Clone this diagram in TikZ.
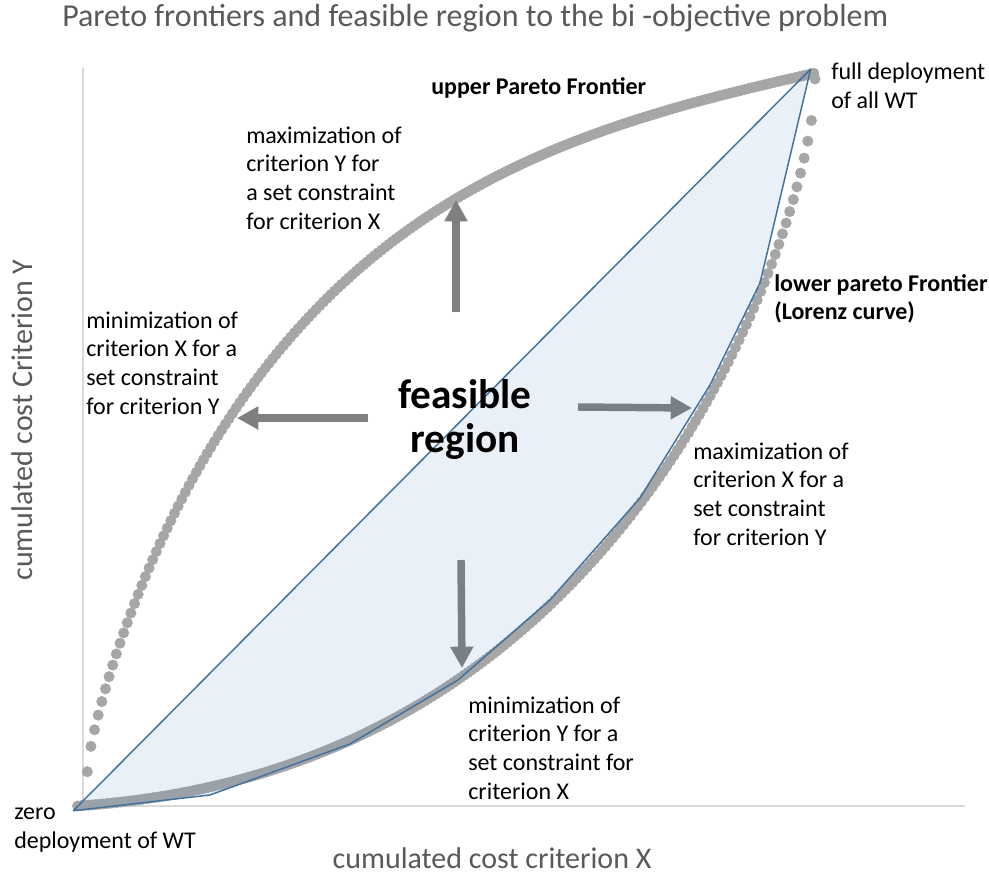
\documentclass[tikz,border=0pt]{standalone}
\usepackage{fontspec}
\setmainfont{Carlito}
\usetikzlibrary{arrows.meta}
\definecolor{dotgray}{HTML}{A6A6A6}
\definecolor{arrowgray}{HTML}{7F7F7F}
\definecolor{fillblue}{HTML}{4F81BD}
\definecolor{lineblue}{HTML}{41719C}
\definecolor{axisgray}{HTML}{D9D9D9}
\definecolor{titlegray}{HTML}{595959}
\tikzset{
  lbl/.style={font=\fontsize{18}{21.5}\selectfont, align=left, inner sep=0pt, anchor=west},
  blbl/.style={font=\fontsize{18}{21.5}\selectfont\bfseries, align=left, inner sep=0pt, anchor=west},
  biglbl/.style={font=\fontsize{31}{33}\selectfont\bfseries, align=center, inner sep=0pt},
  axlbl/.style={font=\fontsize{22.5}{26}\selectfont, text=titlegray, inner sep=0pt},
  bigarrow/.style={draw=arrowgray, line width=5.6pt, -{Triangle[width=16.5pt,length=16pt]}},
  frontier/.style={only marks, mark=*, mark size=3.9pt, mark options={draw=dotgray, fill=dotgray, line width=0.4pt}},
}
\begin{document}
\begin{tikzpicture}[x=0.75pt, y=-0.75pt]
\useasboundingbox (0,0) rectangle (989,881);
% axes
\draw[axisgray, line width=1.1pt] (83,68) -- (83,806) -- (965,806);
% upper Pareto frontier (dots)
\path[color=dotgray] plot[frontier, variable=\t, domain=0:1, samples=201]
  ({87.3+728*\t}, {771.7-(190.7*sqrt(\t)+2611.7*\t-3328.0*\t*sqrt(\t)+1224.3*\t*\t)});
% lower Pareto frontier (dots)
\path[color=dotgray] plot[frontier, variable=\t, domain=0:1, samples=205]
  ({815-738*\t}, {79+498.2*sqrt(\t)+1461.6*\t-1606.5*\t*sqrt(\t)+373.7*\t*\t});
% arrows
\coordinate (upS) at (456,312);   \coordinate (upE) at (456,200);
\coordinate (lfS) at (368,418);   \coordinate (lfE) at (237,418);
\coordinate (rtS) at (578,407);   \coordinate (rtE) at (692,408);
\coordinate (dnS) at (461,560);   \coordinate (dnE) at (462,668);
\draw[bigarrow] (upS) -- (upE);
\draw[bigarrow] (lfS) -- (lfE);
\draw[bigarrow] (rtS) -- (rtE);
\draw[bigarrow] (dnS) -- (dnE);
% feasible region
\fill[fillblue, fill opacity=0.12] (73.3,810.7) -- (810.7,69) -- (760,283) -- (710,385) -- (640,498) -- (550,600) -- (458,680) -- (350,744) -- (210,795) -- cycle;
\draw[lineblue, line width=1.1pt, line join=round] (73.3,810.7) -- (810.7,69) -- (760,283) -- (710,385) -- (640,498) -- (550,600) -- (458,680) -- (350,744) -- (210,795) -- cycle;
% texts
\node[font=\fontsize{24}{28}\selectfont, text=titlegray, inner sep=0pt, anchor=base west] (title) at (62,27) {Pareto frontiers and feasible region to the bi -objective problem};
\node[blbl] (upper) at (431,88) {upper Pareto Frontier};
\node[lbl] (full) at (831,86) {full deployment\\of all WT};
\node[lbl] (maxY) at (246,178) {maximization of\\criterion Y for\\a set constraint\\for criterion X};
\node[lbl] (minX) at (86,363) {minimization of\\criterion X for a\\set constraint\\for criterion Y};
\node[blbl] (lower) at (774,299) {lower pareto Frontier\\(Lorenz curve)};
\node[biglbl] (feas) at (465,419) {feasible\\region};
\node[lbl] (maxX) at (693,494) {maximization of\\criterion X for a\\set constraint\\for criterion Y};
\node[lbl] (minY) at (468,748) {minimization of\\criterion Y for a\\set constraint for\\criterion X};
\node[lbl] (zero) at (14,830) {zero\\deployment of WT};
\node[axlbl] (xlab) at (492,858) {cumulated cost criterion X};
\node[axlbl, rotate=90] (ylab) at (22,420) {cumulated cost Criterion Y};
\end{tikzpicture}
\end{document}
